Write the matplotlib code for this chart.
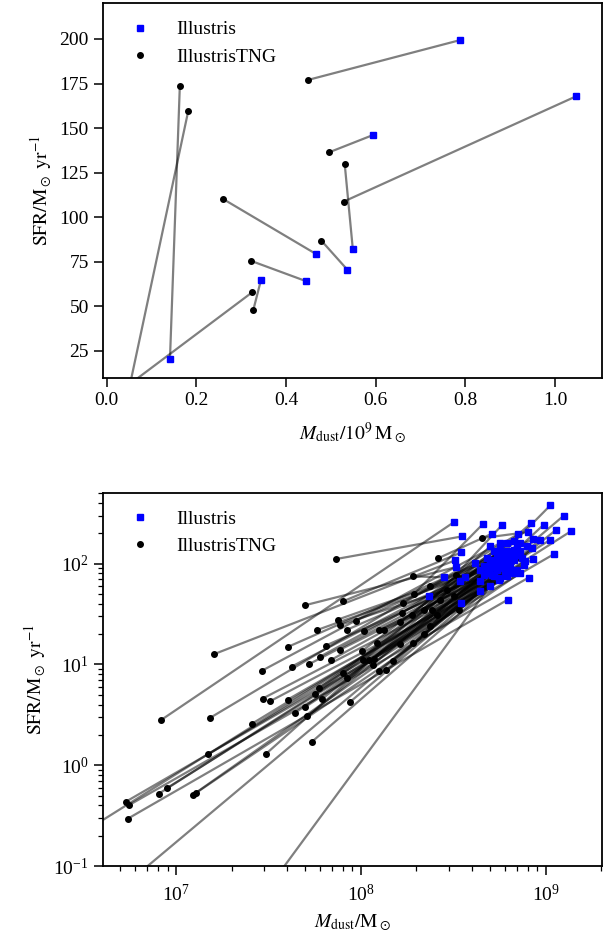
"""
Dust mass vs star formation rate: Illustris vs IllustrisTNG pairs.
"""
import numpy as np
import matplotlib.pyplot as plt

plt.rcParams["font.family"] = "serif"
plt.rcParams["font.serif"] = ["Liberation Serif", "DejaVu Serif"]
plt.rcParams["mathtext.fontset"] = "stix"
plt.rcParams["font.size"] = 14

# --- top panel: linear, M_dust in 1e9 Msun, SFR in Msun/yr (pairs by index)
lin_tng_mdust = [0.449, 0.529, 0.496, 0.531, 0.259, 0.479, 0.322, 0.327, 0.324, 0.163, 0.182]
lin_tng_sfr = [177.0, 108.8, 136.4, 129.6, 110.3, 86.8, 75.5, 48.0, 57.8, 173.4, 159.8]
lin_ill_mdust = [0.789, 1.047, 0.594, 0.549, 0.466, 0.537, 0.445, 0.344, 0.044, 0.141, 0.050]
lin_ill_sfr = [199.4, 167.8, 146.1, 82.1, 79.5, 70.5, 64.1, 64.7, 5.0, 20.3, 4.0]

# --- bottom panel: log10 values (pairs by index)
log_tng_mdust = [
    7.866, 8.417, 8.657, 8.285, 8.513, 7.697, 7.903, 8.289, 8.231, 8.533,
    7.874, 7.888, 7.973, 7.764, 7.926, 8.020, 8.101, 8.123, 8.222, 8.340,
    8.376, 7.204, 7.605, 7.810, 7.888, 8.087, 8.213, 8.285, 7.466, 7.626,
    7.722, 7.780, 7.839, 8.005, 8.014, 8.069, 8.177, 8.096, 8.137, 7.906,
    7.928, 7.469, 7.509, 7.605, 7.753, 7.774, 7.791, 7.697, 7.643, 7.711,
    7.940, 6.920, 7.184, 7.413, 7.735, 7.175, 7.485, 6.727, 6.745, 6.906,
    6.953, 7.092, 7.106, 6.738, 8.210, 8.276, 8.340, 8.385, 8.412, 8.042,
    8.065, 8.466, 8.502, 8.430, 8.376, 6.407, 6.588, 7.401,
]
log_tng_sfr = [
    2.046, 2.052, 2.254, 1.874, 1.890, 1.587, 1.626, 1.702, 1.610, 1.537,
    1.444, 1.392, 1.435, 1.342, 1.345, 1.335, 1.342, 1.345, 1.511, 1.306,
    1.378, 1.101, 1.174, 1.187, 1.147, 1.213, 1.207, 1.213, 0.939, 0.979,
    1.005, 1.078, 1.045, 1.131, 1.048, 1.058, 1.038, 0.939, 0.945, 0.916,
    0.870, 0.662, 0.635, 0.652, 0.708, 0.764, 0.658, 0.576, 0.519, 0.486,
    0.625, 0.450, 0.470, 0.414, 0.232, 0.110, 0.110, -0.363, -0.396, -0.283,
    -0.224, -0.293, -0.277, -0.531, 1.418, 1.494, 1.544, 1.544, 1.494, 1.048,
    0.998, 1.742, 1.676, 1.643, 1.775, -0.769, -1.397, -1.463,
]
log_ill_mdust = [
    8.547, 8.710, 8.903, 8.448, 8.565, 8.515, 8.545, 8.659, 8.619, 8.643,
    8.646, 8.710, 8.665, 8.701, 8.737, 8.773, 8.809, 8.881, 8.791, 9.026,
    8.845, 8.511, 8.935, 8.737, 8.773, 8.827, 8.900, 9.098, 8.755, 8.773,
    8.791, 8.755, 8.827, 8.719, 8.755, 8.863, 8.971, 9.058, 8.990, 8.845,
    8.809, 8.782, 8.791, 8.809, 8.737, 8.719, 8.791, 8.845, 8.872, 8.665,
    8.927, 8.502, 8.851, 8.719, 8.746, 8.755, 8.538, 9.046, 8.908, 9.136,
    8.935, 8.887, 8.863, 8.796, 8.683, 8.701, 8.766, 8.923, 8.701, 8.827,
    8.863, 8.367, 8.646, 8.683, 8.827, 9.026, 8.544, 8.701,
]
log_ill_sfr = [
    2.270, 2.297, 2.313, 1.864, 1.867, 1.966, 2.112, 2.389, 2.006, 1.732,
    1.940, 1.890, 1.973, 1.957, 1.990, 2.006, 1.973, 1.990, 2.204, 2.578,
    2.171, 2.033, 2.244, 1.940, 1.957, 2.221, 2.171, 2.475, 2.204, 2.072,
    2.023, 2.039, 2.039, 2.122, 2.138, 2.122, 2.237, 2.336, 2.386, 2.089,
    2.089, 1.907, 1.874, 1.924, 2.089, 2.039, 2.122, 1.940, 2.056, 1.890,
    2.151, 2.409, 2.293, 1.874, 1.841, 1.857, 1.831, 2.095, 1.861, 2.320,
    2.049, 2.023, 1.907, 1.643, 2.056, 2.171, 2.386, 2.403, 2.006, 1.907,
    2.204, 1.682, 1.824, 1.907, 2.138, 2.237, 1.610, 1.781,
]


def draw_pairs(ax, tng_x, tng_y, ill_x, ill_y):
    for x0, y0, x1, y1 in zip(tng_x, tng_y, ill_x, ill_y):
        ax.plot([x0, x1], [y0, y1], color="k", alpha=0.5, lw=1.6, zorder=1)
    ax.plot(tng_x, tng_y, "o", color="k", ms=4.0, ls="none", zorder=2,
            label="IllustrisTNG")
    ax.plot(ill_x, ill_y, "s", color="blue", ms=5.0, ls="none", zorder=3,
            label="Illustris")
    h, l = ax.get_legend_handles_labels()
    ax.legend(h[::-1], l[::-1], loc="upper left", frameon=False,
              handletextpad=0.9, fontsize=14)


def style_axes(ax):
    for s in ax.spines.values():
        s.set_linewidth(1.3)
    ax.tick_params(which="major", length=6.5, width=1.1)
    ax.tick_params(which="minor", length=3.5, width=0.9)


fig = plt.figure(figsize=(6.14, 9.39), dpi=100)

ax1 = fig.add_axes([0.1673, 0.5978, 0.8132, 0.3987])
draw_pairs(ax1, lin_tng_mdust, lin_tng_sfr, lin_ill_mdust, lin_ill_sfr)
ax1.set_xlim(-0.009, 1.105)
ax1.set_ylim(10, 220)
ax1.set_xticks([0.0, 0.2, 0.4, 0.6, 0.8, 1.0])
ax1.set_yticks([25, 50, 75, 100, 125, 150, 175, 200])
ax1.set_xlabel(r"$M_\mathrm{dust}/10^9\,\mathrm{M}_\odot$", labelpad=9)
ax1.set_ylabel(r"$\mathrm{SFR}/\mathrm{M}_\odot\ \mathrm{yr}^{-1}$")
style_axes(ax1)

ax2 = fig.add_axes([0.1673, 0.0777, 0.8132, 0.3978])
draw_pairs(ax2, 10 ** np.array(log_tng_mdust), 10 ** np.array(log_tng_sfr),
           10 ** np.array(log_ill_mdust), 10 ** np.array(log_ill_sfr))
ax2.set_xscale("log")
ax2.set_yscale("log")
ax2.set_xlim(10 ** 6.603, 10 ** 9.306)
ax2.set_ylim(0.1, 10 ** 2.706)
ax2.tick_params(axis="x", which="major", pad=6)
ax2.set_xlabel(r"$M_\mathrm{dust}/\mathrm{M}_\odot$", labelpad=6)
ax2.set_ylabel(r"$\mathrm{SFR}/\mathrm{M}_\odot\ \mathrm{yr}^{-1}$")
style_axes(ax2)

fig.savefig("out.png", dpi=100)
